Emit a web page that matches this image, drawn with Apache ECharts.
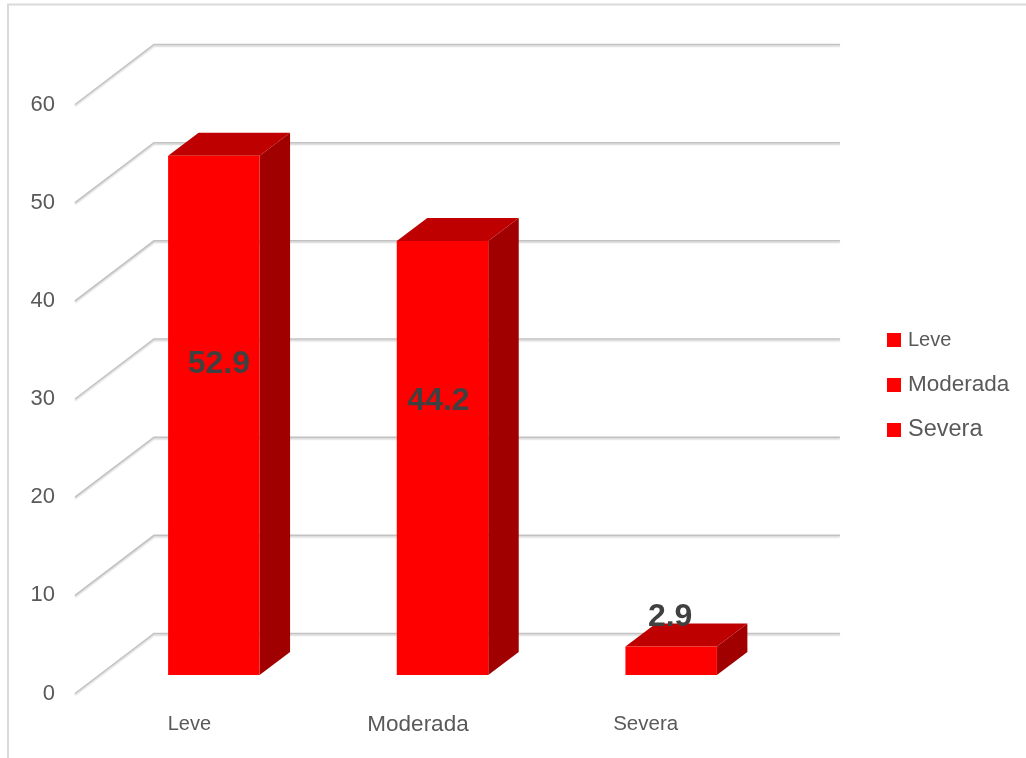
<!DOCTYPE html>
<html>
<head>
<meta charset="utf-8">
<style>html,body{margin:0;padding:0;background:#fff}#c{width:1026px;height:758px}</style>
<script src="https://cdn.jsdelivr.net/npm/echarts@6/dist/echarts.min.js"></script>
</head>
<body>
<div id="c"></div>
<script>
const categories = ['Leve', 'Moderada', 'Severa'];
const values = [52.9, 44.2, 2.9];
const tickValues = [0, 10, 20, 30, 40, 50, 60];

const FONT = '"Liberation Sans", Arial, sans-serif';
const labelNudge = [[5, -51], [-4, -57], [-1, -44]];
const catText = [
  {fontSize: 20, lineHeight: 24},
  {fontSize: 22.5, lineHeight: 24},
  {fontSize: 20.5, lineHeight: 24, padding: [0, 2, 0, 0]}
];
const legendText = [{fontSize: 20}, {fontSize: 22.5}, {fontSize: 23.5}];

const chart = echarts.init(document.getElementById('c'), null, {renderer: 'canvas'});

function renderWall(params, api) {
  const cs = params.coordSys;
  const y = api.coord([0, api.value(0)])[1];
  return {
    type: 'polyline',
    silent: true,
    shape: {points: [[cs.x, y], [cs.x + 79, y - 60], [cs.x + cs.width + 79, y - 60]]},
    style: {fill: 'none', stroke: '#c2c2c2', lineWidth: 1.5,
      shadowColor: 'rgba(0,0,0,0.18)', shadowBlur: 1.5, shadowOffsetY: 1.5}
  };
}

function renderBar(params, api) {
  const idx = api.value(0), val = api.value(1);
  const nudge = labelNudge[idx];
  const w = api.size([1, 0])[0] * 0.4;
  const c = api.coord([idx, val]);
  const base = api.coord([idx, 0]);
  const x0 = c[0] + 24.5 - w / 2, x1 = x0 + w;
  const yT = c[1] - 18.5, yB = base[1] - 18.5;
  const dx = 30.5, dy = 23;
  return {
    type: 'group',
    children: [
      {type: 'polygon', shape: {points: [[x1, yT], [x1 + dx, yT - dy], [x1 + dx, yB - dy], [x1, yB]]},
        style: {fill: '#a00000'}},
      {type: 'polygon', shape: {points: [[x0, yT], [x0 + dx, yT - dy], [x1 + dx, yT - dy], [x1, yT]]},
        style: {fill: '#bf0000'}},
      {type: 'rect', shape: {x: x0, y: yT, width: w, height: yB - yT},
        style: {fill: '#ff0000'}},
      {type: 'text', z2: 100,
        style: {x: (x0 + x1) / 2 + nudge[0], y: (yT + yB) / 2 + nudge[1],
          text: String(val.toFixed(1)), align: 'center', verticalAlign: 'middle',
          font: 'bold 32px ' + FONT, fill: '#404040'}}
    ]
  };
}

const barSeries = categories.map((name, i) => ({
  name,
  type: 'custom',
  renderItem: renderBar,
  z: 5,
  itemStyle: {color: '#ff0000'},
  encode: {x: 0, y: 1},
  data: [[i, values[i]]]
}));

chart.setOption({
  animation: false,
  backgroundColor: '#ffffff',
  graphic: [{
    type: 'polyline', silent: true,
    shape: {points: [[8, 758], [8, 4.5], [1026, 4.5]]},
    style: {fill: 'none', stroke: '#d9d9d9', lineWidth: 2}
  }],
  grid: {left: 75, top: 104.5, width: 686, height: 589},
  legend: {
    orient: 'vertical', left: 882, top: 323, itemWidth: 14, itemHeight: 14, itemGap: 21,
    icon: 'rect', selectedMode: false,
    data: categories.map((name, i) => ({
      name, textStyle: Object.assign({fontFamily: FONT, lineHeight: 24, padding: [0, 0, 0, 2]}, legendText[i])
    })),
    textStyle: {color: '#595959'}
  },
  xAxis: {
    type: 'category',
    data: categories.map((value, i) => ({value, textStyle: catText[i]})),
    axisLine: {show: false}, axisTick: {show: false}, splitLine: {show: false},
    axisLabel: {fontFamily: FONT, color: '#595959', margin: 19, interval: 0}
  },
  yAxis: {
    type: 'value', min: 0, max: 60, interval: 10,
    axisLine: {show: false}, axisTick: {show: false}, splitLine: {show: false},
    axisLabel: {fontFamily: FONT, color: '#595959', fontSize: 22, margin: 20}
  },
  series: [{
    name: 'wall', type: 'custom', renderItem: renderWall, z: 1, silent: true,
    encode: {y: 0}, data: tickValues.map(v => [v])
  }].concat(barSeries)
});
</script>
</body>
</html>
